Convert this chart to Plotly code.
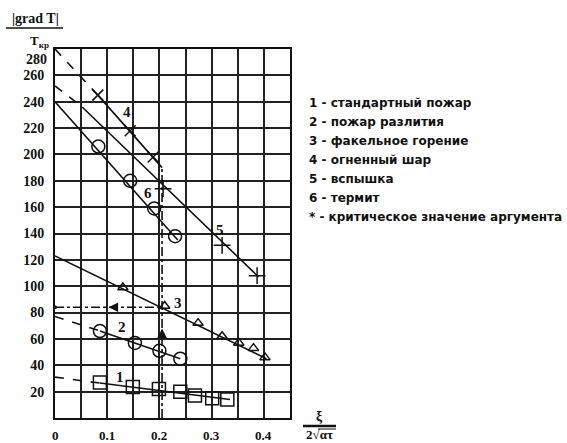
import plotly.graph_objects as go

# ---- data ----
s1_x = [0.086, 0.149, 0.199, 0.24, 0.268, 0.301, 0.33]
s1_y = [27, 23.5, 22, 20, 17, 15, 14]
s1_dash_x = [0, 0.086]
s1_dash_y = [31, 26.5]
s1_fit_x = [0.086, 0.335]
s1_fit_y = [26.5, 14]

s2_x = [0.086, 0.153, 0.2, 0.24]
s2_y = [66, 57, 51, 45]
s2_dash_x = [0, 0.086]
s2_dash_y = [77, 66]
s2_fit_x = [0.086, 0.24]
s2_fit_y = [66, 45]

s3_x = [0.13, 0.21, 0.274, 0.32, 0.352, 0.38, 0.402]
s3_y = [99, 85, 72, 62, 57, 53, 46]
s3_fit_x = [0, 0.405]
s3_fit_y = [123, 45]

s4_x = [0.082, 0.144, 0.188]
s4_y = [245, 218, 198]
s4_dash_x = [0, 0.082]
s4_dash_y = [280, 245]
s4_fit_x = [0.082, 0.205]
s4_fit_y = [245, 190]

s5_x = [0.207, 0.32, 0.387]
s5_y = [174, 131, 108]
s5_dash_x = [0, 0.052]
s5_dash_y = [252, 236]
s5_fit_x = [0.052, 0.39]
s5_fit_y = [236, 107]

s6_x = [0.083, 0.144, 0.19, 0.23]
s6_y = [206, 180, 159, 138]
s6_fit_x = [0, 0.235]
s6_fit_y = [240, 135]

crit_x = 0.205
crit_y = 84
crit_top = 190

curve_labels = ["1", "2", "3", "4", "5", "6"]
curve_label_x = [0.125, 0.128, 0.236, 0.138, 0.316, 0.178]
curve_label_y = [31, 69, 87, 232, 143, 171]

legend_lines = [
    "1 - стандартный пожар",
    "2 - пожар разлития",
    "3 - факельное горение",
    "4 - огненный шар",
    "5 - вспышка",
    "6 - термит",
    "* - критическое значение аргумента",
]

x_ticks = [0, 0.1, 0.2, 0.3, 0.4]
x_ticktext = ["0", "0.1", "0.2", "0.3", "0.4"]
y_ticks = [20, 40, 60, 80, 100, 120, 140, 160, 180, 200, 220, 240, 260]
y_top_tick = 280

# ---- styling ----
INK = "#111111"
LW = 1.6
SERIF = "Liberation Serif"

fig = go.Figure()

def line(xs, ys, dash="solid"):
    fig.add_trace(go.Scatter(x=xs, y=ys, mode="lines",
                             line=dict(color=INK, width=LW, dash=dash),
                             showlegend=False, hoverinfo="skip"))

def marks(xs, ys, symbol, size):
    fig.add_trace(go.Scatter(x=xs, y=ys, mode="markers",
                             marker=dict(symbol=symbol, size=size, color=INK,
                                         line=dict(color=INK, width=1.5)),
                             showlegend=False, hoverinfo="skip"))

# series 1
line(s1_dash_x, s1_dash_y, "dash")
line(s1_fit_x, s1_fit_y)
marks(s1_x, s1_y, "square-open", 13)
# series 2
line(s2_dash_x, s2_dash_y, "dash")
line(s2_fit_x, s2_fit_y)
marks(s2_x, s2_y, "circle-open", 13)
# series 3
line(s3_fit_x, s3_fit_y)
marks(s3_x, s3_y, "triangle-up-open", 9)
# series 4
line(s4_dash_x, s4_dash_y, "dash")
line(s4_fit_x, s4_fit_y)
marks(s4_x, s4_y, "x-thin", 11)
# series 5
line(s5_dash_x, s5_dash_y, "dash")
line(s5_fit_x, s5_fit_y)
marks(s5_x, s5_y, "cross-thin", 12)
# series 6
line(s6_fit_x, s6_fit_y)
marks(s6_x, s6_y, "circle-open", 13)

# critical value lines
line([crit_x, crit_x], [0, crit_top], "dashdot")
line([0, crit_x], [crit_y, crit_y], "dashdot")
fig.add_trace(go.Scatter(x=[0, crit_x], y=[crit_y, -7], mode="markers",
                         marker=dict(size=4, color=INK), cliponaxis=False,
                         showlegend=False, hoverinfo="skip"))

fig.add_annotation(x=crit_x, y=crit_y - 16, ax=crit_x, ay=crit_y - 26,
                   xref="x", yref="y", axref="x", ayref="y", text="",
                   showarrow=True, arrowhead=2, arrowsize=1.2, arrowwidth=1.6,
                   arrowcolor=INK)
fig.add_annotation(x=crit_x / 2, y=crit_y, ax=crit_x / 2 + 0.02, ay=crit_y,
                   xref="x", yref="y", axref="x", ayref="y", text="",
                   showarrow=True, arrowhead=2, arrowsize=1.2, arrowwidth=1.6,
                   arrowcolor=INK)

# curve number labels
for t, xv, yv in zip(curve_labels, curve_label_x, curve_label_y):
    fig.add_annotation(x=xv, y=yv, text=t, showarrow=False,
                       font=dict(family=SERIF, size=15, color=INK, weight="bold"))

# legend text on the right
leg_y_px = [103, 122, 141, 160, 179, 198, 217]
for t, ypx in zip(legend_lines, leg_y_px):
    fig.add_annotation(xref="paper", yref="paper",
                       x=(307 - 55) / 235, y=(418 - ypx) / 369,
                       xanchor="left", yanchor="middle", text=t, showarrow=False,
                       font=dict(family="DejaVu Sans", size=12,
                                 color=INK, weight="bold"))

# y axis title
fig.add_annotation(xref="paper", yref="paper", x=(35 - 55) / 235,
                   y=(418 - 18) / 369, text="|grad T|", showarrow=False,
                   xanchor="center", yanchor="middle",
                   font=dict(family=SERIF, size=14, color=INK, weight="bold"))
fig.add_annotation(xref="paper", yref="paper", x=(39 - 55) / 235,
                   y=(418 - 41) / 369, text="T<sub>кр</sub>", showarrow=False,
                   xanchor="center", yanchor="middle",
                   font=dict(family=SERIF, size=13, color=INK, weight="bold"))
fig.add_shape(type="line", xref="paper", yref="paper",
              x0=(6 - 55) / 235, x1=(63 - 55) / 235,
              y0=(418 - 28) / 369, y1=(418 - 28) / 369,
              line=dict(color=INK, width=1.5))

# top y tick label (drawn slightly lower, as in the original)
fig.add_annotation(xref="paper", yref="y", x=0, y=y_top_tick, xanchor="right",
                   xshift=-6, yshift=-10, text=str(y_top_tick), showarrow=False,
                   font=dict(family=SERIF, size=14, color=INK, weight="bold"))

# x axis title (fraction)
fig.add_annotation(xref="paper", yref="paper", x=(319 - 55) / 235,
                   y=(418 - 416) / 369, text="ξ", showarrow=False,
                   xanchor="center", yanchor="middle",
                   font=dict(family=SERIF, size=14, color=INK, weight="bold"))
fig.add_shape(type="line", xref="paper", yref="paper",
              x0=(303 - 55) / 235, x1=(336 - 55) / 235,
              y0=(418 - 426) / 369, y1=(418 - 426) / 369,
              line=dict(color=INK, width=2.5))
fig.add_annotation(xref="paper", yref="paper", x=(319 - 55) / 235,
                   y=(418 - 435) / 369, text="2√ατ", showarrow=False,
                   xanchor="center", yanchor="middle",
                   font=dict(family=SERIF, size=13, color=INK, weight="bold"))
fig.add_shape(type="line", xref="paper", yref="paper",
              x0=(318 - 55) / 235, x1=(336 - 55) / 235,
              y0=(418 - 429) / 369, y1=(418 - 429) / 369,
              line=dict(color=INK, width=1))

axis_common = dict(showgrid=True, gridcolor="#222222", gridwidth=1.5,
                   zeroline=False, showline=True, linecolor=INK, linewidth=2,
                   mirror=True, ticks="",
                   tickfont=dict(family=SERIF, size=14, color=INK, weight="bold"))

fig.update_xaxes(range=[0, 0.45], dtick=0.05, tickmode="linear", tick0=0,
                 showticklabels=False, **axis_common)
fig.update_yaxes(range=[0, 280], tickvals=y_ticks, ticklabelstandoff=6,
                 **axis_common)

# x tick labels drawn at the tick values
for v, t in zip(x_ticks, x_ticktext):
    fig.add_annotation(x=v, y=0, xref="x", yref="y", yshift=-17, text=t,
                       showarrow=False, xanchor="center", yanchor="middle",
                       font=dict(family=SERIF, size=13, color=INK, weight="bold"))

fig.update_layout(width=567, height=443,
                  margin=dict(l=55, r=277, t=49, b=25),
                  paper_bgcolor="white", plot_bgcolor="white")

fig.write_html("out.html",
               config={"displayModeBar": False},
               post_script="document.body.style.margin='0';"
                           "document.body.style.padding='0';")
